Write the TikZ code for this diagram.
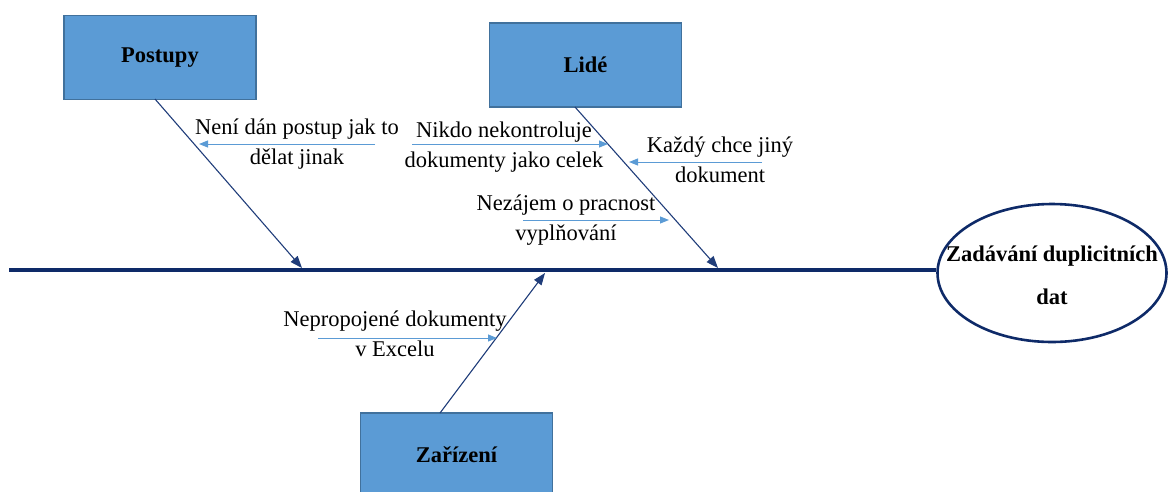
\documentclass[tikz,border=0pt]{standalone}
\usepackage{fontspec}
\setmainfont{Liberation Serif}
\usetikzlibrary{arrows.meta,shapes.geometric}
\definecolor{boxfill}{HTML}{5B9BD5}
\definecolor{boxline}{HTML}{41719C}
\definecolor{navy}{HTML}{0E2A68}
\definecolor{bonecol}{HTML}{203D7A}
\definecolor{causeblue}{HTML}{5B9BD5}
\begin{document}
\begin{tikzpicture}[x=1pt,y=-1pt,
  txt/.style={font=\fontsize{22.5}{30}\selectfont},
  category/.style={draw=boxline,line width=1.3pt,fill=boxfill,minimum width=192pt,minimum height=84pt,inner sep=0pt,font=\fontsize{22.5}{30}\selectfont\bfseries},
  bone/.style={draw=bonecol,line width=1.1pt,-{Triangle[length=12pt,width=9pt]}},
  spine/.style={draw=navy,line width=3.5pt},
  cause/.style={draw=causeblue,line width=1pt,-{Triangle[length=9pt,width=7pt]}},
  causetext/.style={txt,align=center,inner sep=0pt}]
\clip (0,0) rectangle (1170,491);
\useasboundingbox (0,0) rectangle (1170,491);

% effect head: outline and its text
\node[ellipse,draw=navy,line width=2.6pt,minimum width=229pt,minimum height=138pt,inner sep=0pt] (effect) at (1052,273) {};
\node[align=center,inner sep=0pt,font=\fontsize{22.5}{43}\selectfont\bfseries] (effecttext) at ([yshift=-2pt]effect.center)
      {Zad\'av\'an\'i duplicitn\'ich\\dat};

% spine
\coordinate (tail) at (9,270);
\draw[spine] (tail) -- (tail -| effect.west);

% category boxes
\node[category] (postupy) at (160,57.5) {Postupy};
\node[category] (lide) at (585.5,65) {Lid\'e};
\node[category] (zarizeni) at (456.5,455) {Za\v{r}\'izen\'i};

% bones onto the spine
\coordinate (pEnd) at (302,268);
\coordinate (lEnd) at (718,268);
\coordinate (zEnd) at (545,273);
\coordinate (pStart) at (155,99);
\coordinate (lStart) at (575,107);
\coordinate (zStart) at (440,413);
\draw[bone] (pStart) -- (pEnd);
\draw[bone] (lStart) -- (lEnd);
\draw[bone] (zStart) -- (zEnd);

% causes
\node[causetext] (c1) at (297,144) {Nen\'i d\'an postup jak to\\d\v{e}lat jinak};
\coordinate (c1a) at (375,144); \coordinate (c1b) at (199,144);
\draw[cause] (c1a) -- (c1b);

\node[causetext] (c2) at (504,147.5) {Nikdo nekontroluje\\dokumenty jako celek};
\coordinate (c2a) at (412,144); \coordinate (c2b) at (608,144);
\draw[cause] (c2a) -- (c2b);

\node[causetext] (c3) at (720,160) {Ka\v{z}d\'y chce jin\'y\\dokument};
\coordinate (c3a) at (762,162); \coordinate (c3b) at (629,162);
\draw[cause] (c3a) -- (c3b);

\node[causetext] (c4) at (566,220.5) {Nez\'ajem o pracnost\\vypl\v{n}ov\'an\'i};
\coordinate (c4a) at (523,220); \coordinate (c4b) at (669,220);
\draw[cause] (c4a) -- (c4b);

\node[causetext] (c5) at (395,333.5) {Nepropojen\'e dokumenty\\v Excelu};
\coordinate (c5a) at (318,338); \coordinate (c5b) at (497,338);
\draw[cause] (c5a) -- (c5b);
\end{tikzpicture}
\end{document}
